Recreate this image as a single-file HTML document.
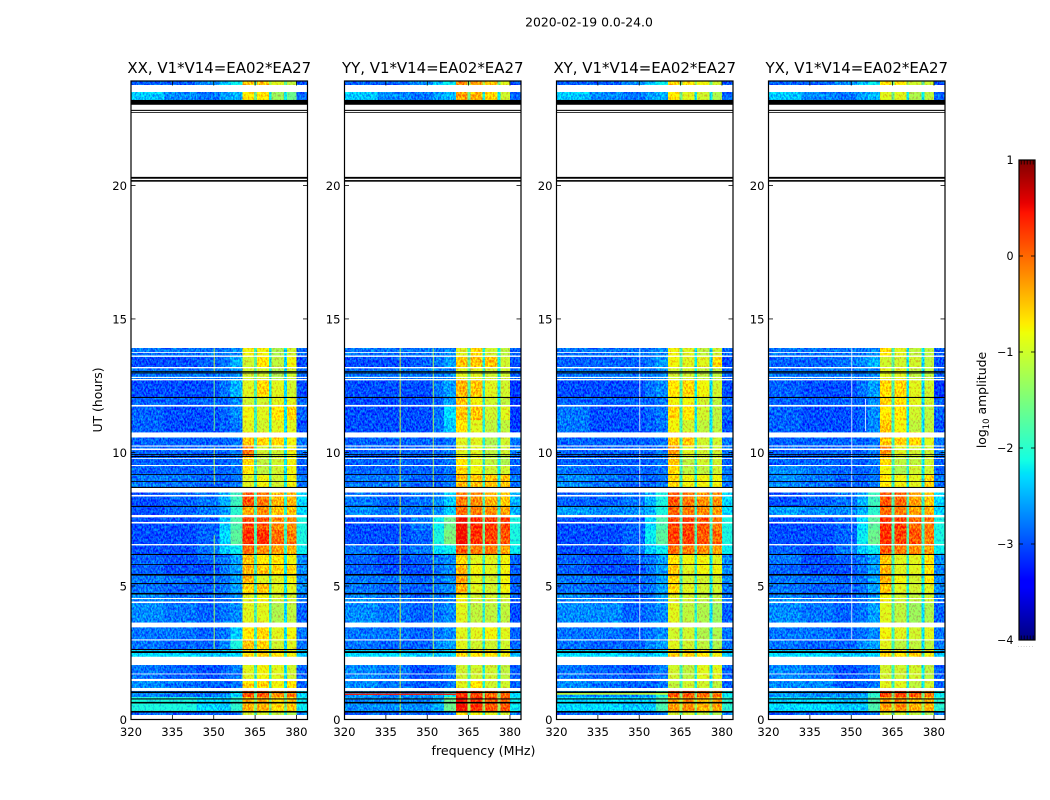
<!DOCTYPE html>
<html>
<head>
<meta charset="utf-8">
<title>2020-02-19 dynamic spectra</title>
<style>
html,body{margin:0;padding:0;background:#fff;}
svg{display:block;}
text{font-family:"DejaVu Sans","Liberation Sans",sans-serif;fill:#000;}
</style>
</head>
<body>
<svg id="figure" xmlns="http://www.w3.org/2000/svg" width="1050" height="800" viewBox="0 0 1050 800">
  <defs>
    <filter id="speckle" filterUnits="userSpaceOnUse" x="120" y="70" width="840" height="660" color-interpolation-filters="sRGB">
      <feTurbulence type="fractalNoise" baseFrequency="0.6 0.38" numOctaves="2" seed="7" result="n"/>
      <feColorMatrix in="n" type="matrix" values="0 0 0 0 0.5  2.4 0 0 0 -0.7  0 0 0 0 0.5  0 0 0 0 1" result="g"/>
      <feComposite in="SourceGraphic" in2="g" operator="arithmetic" k1="0" k2="1" k3="0.55" k4="-0.275" result="mix"/>
      <feComposite in="mix" in2="SourceAlpha" operator="in"/>
    </filter>
  </defs>
  <rect x="0" y="0" width="1050" height="800" fill="#fff"/>
  <text x="589" y="26.5" font-size="12.4" text-anchor="middle">2020-02-19 0.0-24.0</text>
  <text x="0" y="0" font-size="12.4" text-anchor="middle" transform="translate(102,400) rotate(-90)">UT (hours)</text>
  <text x="483.5" y="755" font-size="12.6" text-anchor="middle">frequency (MHz)</text>
  <g id="panels"></g>
  <g id="colorbar"></g>
  <text font-size="12.4" text-anchor="middle" transform="translate(986,400) rotate(-90)">log<tspan font-size="8.5" dy="3">10</tspan><tspan dy="-3"> amplitude</tspan></text>
</svg>
<script>
const panelTitles = ['XX, V1*V14=EA02*EA27','YY, V1*V14=EA02*EA27','XY, V1*V14=EA02*EA27','YX, V1*V14=EA02*EA27'];
const freqTicks = [320,335,350,365,380];
const timeTicks = [0,5,10,15,20];
const colorTicks = [1,0,-1,-2,-3,-4];
const colorTickLabels = ['1','0','\u22121','\u22122','\u22123','\u22124'];

// frequency bin edges in MHz
const freqEdges = [320,332,344,352,356,360.4,364.6,365.6,370,371,375.4,376.5,380,384];
// start and end of each time row in hours
const rowStart = [23.91,23.50,13.91,13.58,13.18,12.72,12.06,11.74,11.22,10.77,10.26,9.87,9.51,9.18,8.69,8.00,7.66,7.10,6.57,6.20,5.82,5.43,5.09,4.72,4.40,3.63,2.98,2.64,2.34,1.50,1.10,0.84,0.30];
const rowEnd   = [23.76,23.20,13.58,13.18,12.72,12.06,11.74,11.22,10.77,10.26,9.87,9.51,9.18,8.69,8.00,7.66,7.10,6.57,6.20,5.82,5.43,5.09,4.72,4.40,3.63,2.98,2.64,2.34,1.50,1.10,0.84,0.30,0.17];

// log10 amplitude, one row per time row, one value per frequency bin
const levelsXX = [
[-2.9,-2.9,-2.7,-2.4,-2.2,-0.5,-1.6,-0.5,-1.3,-0.9,-1.7,-1.1,-3.0],
[-2.4,-2.7,-2.8,-2.6,-2.5,-0.7,-1.6,-0.7,-2.2,-1.3,-2.2,-1.6,-2.9],
[-2.8,-2.8,-2.8,-2.8,-2.7,-0.8,-1.9,-0.8,-2.3,-1.2,-2.3,-1.0,-2.9],
[-3.0,-3.0,-2.9,-2.8,-2.5,-1.0,-1.7,-0.7,-2.2,-1.1,-2.3,-0.8,-3.0],
[-2.8,-2.8,-2.8,-2.8,-2.7,-1.0,-1.7,-1.0,-2.2,-1.2,-2.3,-1.0,-2.9],
[-3.0,-3.0,-3.0,-2.8,-2.5,-0.9,-1.8,-0.6,-2.2,-0.9,-2.3,-1.0,-3.0],
[-2.9,-2.9,-2.9,-2.9,-2.7,-1.0,-1.9,-1.0,-2.2,-0.9,-2.3,-0.9,-2.9],
[-2.9,-3.0,-3.0,-2.9,-2.7,-0.8,-1.9,-0.9,-2.2,-0.7,-2.2,-0.6,-2.9],
[-2.9,-3.0,-3.0,-2.9,-2.8,-0.9,-1.9,-1.0,-2.2,-0.9,-2.3,-0.9,-3.0],
[-2.9,-2.9,-2.9,-2.9,-2.8,-0.5,-1.9,-0.6,-2.0,-0.6,-2.2,-0.8,-2.8],
[-2.9,-2.9,-2.9,-2.9,-2.8,-0.1,-1.9,-1.0,-2.0,-1.0,-2.2,-0.8,-2.8],
[-2.9,-2.9,-2.9,-2.9,-2.8,-0.6,-1.9,-1.1,-2.0,-1.0,-2.2,-0.8,-2.9],
[-2.9,-2.9,-2.9,-2.9,-2.8,-0.7,-1.9,-1.1,-2.0,-1.0,-2.2,-0.8,-2.9],
[-2.8,-2.8,-2.9,-2.9,-2.8,-0.9,-2.0,-0.8,-2.1,-1.0,-2.2,-0.8,-2.8],
[-3.0,-2.9,-2.8,-2.5,-1.9,0.1,-1.8,-0.1,-1.8,-0.4,-2.0,-0.4,-2.3],
[-3.0,-2.9,-2.8,-2.6,-2.0,-0.4,-1.8,-0.2,-1.9,-0.5,-2.0,-0.5,-2.3],
[-3.0,-3.0,-2.9,-2.4,-1.8,0.2,-1.8,0.1,-1.8,-0.2,-1.9,-0.2,-2.1],
[-3.0,-3.0,-2.9,-2.3,-1.7,0.3,-1.8,0.3,-1.8,0.0,-1.9,-0.1,-2.1],
[-3.0,-3.0,-2.8,-2.4,-2.2,0.0,-1.8,-0.2,-1.9,-0.3,-2.0,-0.4,-2.2],
[-2.9,-3.0,-2.9,-2.8,-2.6,-0.5,-1.9,-0.7,-2.0,-0.7,-2.2,-0.8,-2.7],
[-2.9,-3.0,-3.0,-2.8,-2.6,-0.4,-1.9,-0.5,-2.0,-0.6,-2.2,-0.6,-2.7],
[-2.8,-2.8,-2.9,-2.8,-2.6,-0.4,-1.9,-0.9,-2.0,-0.9,-2.2,-0.8,-2.7],
[-2.8,-2.9,-2.9,-2.8,-2.6,-0.6,-1.9,-0.5,-2.1,-0.9,-2.2,-0.9,-2.7],
[-2.7,-2.8,-2.9,-2.8,-2.7,-0.9,-1.9,-0.8,-2.1,-1.0,-2.2,-1.0,-2.8],
[-2.7,-2.8,-2.9,-2.8,-2.7,-0.9,-1.8,-0.9,-2.0,-1.2,-2.3,-1.1,-2.9],
[-2.8,-2.8,-2.9,-2.8,-2.4,-0.7,-1.9,-0.6,-2.1,-0.9,-2.2,-0.8,-2.8],
[-2.8,-2.9,-2.9,-2.7,-2.1,-0.5,-1.9,-0.6,-2.1,-1.0,-2.3,-0.9,-2.8],
[-2.3,-2.3,-2.4,-2.4,-2.3,-0.6,-1.7,-0.6,-1.8,-0.7,-2.0,-0.8,-2.4],
[-2.8,-2.9,-3.0,-2.9,-2.8,-0.9,-1.9,-0.8,-2.1,-0.9,-2.2,-1.0,-2.9],
[-2.7,-2.8,-2.9,-2.9,-2.8,-0.6,-1.9,-0.6,-2.1,-0.8,-2.2,-0.7,-2.9],
[-2.7,-2.8,-2.8,-2.7,-2.3,0.1,-1.7,0.1,-1.7,-0.2,-1.7,-0.1,-2.3],
[-2.1,-2.1,-2.3,-2.4,-2.0,-0.4,-1.4,-0.4,-1.5,-0.6,-1.5,-0.5,-2.2],
[-2.9,-2.9,-2.9,-2.9,-2.8,-1.0,-1.8,-1.0,-2.0,-1.1,-2.0,-1.2,-2.8]
];
const levelsYY = [
[-2.9,-2.9,-2.7,-2.4,-2.2,-0.2,-1.5,-0.3,-1.2,-0.5,-1.6,-0.9,-3.0],
[-2.4,-2.7,-2.8,-2.6,-2.5,-0.3,-1.6,-0.4,-2.1,-0.6,-2.2,-1.0,-2.9],
[-2.8,-2.8,-2.8,-2.8,-2.7,-0.9,-1.9,-0.6,-2.1,-1.0,-2.2,-1.1,-2.9],
[-3.0,-3.0,-2.9,-2.8,-2.6,-0.5,-1.7,-0.5,-2.1,-0.5,-2.2,-1.0,-3.0],
[-2.8,-2.8,-2.8,-2.8,-2.7,-0.9,-1.7,-0.9,-2.0,-1.0,-2.2,-1.0,-2.9],
[-3.0,-3.0,-3.0,-2.8,-2.6,-0.4,-1.8,-0.5,-2.0,-0.9,-2.2,-1.0,-3.1],
[-3.0,-3.0,-3.0,-2.9,-2.6,-0.5,-1.9,-0.8,-2.0,-1.0,-2.2,-1.1,-3.1],
[-3.0,-3.0,-3.0,-2.8,-2.3,-0.5,-1.9,-0.5,-2.0,-1.0,-2.2,-0.9,-3.1],
[-3.0,-3.0,-3.0,-2.8,-2.4,-0.7,-1.9,-0.9,-2.1,-1.1,-2.3,-1.1,-3.1],
[-2.9,-2.9,-2.9,-2.9,-2.8,-0.9,-1.9,-0.9,-2.1,-1.2,-2.2,-1.0,-2.8],
[-2.9,-2.9,-2.9,-2.9,-2.8,-0.9,-1.9,-0.9,-2.1,-1.1,-2.2,-1.0,-2.8],
[-2.9,-2.9,-2.9,-2.9,-2.8,-0.7,-1.9,-0.9,-2.0,-1.1,-2.2,-1.2,-2.9],
[-2.9,-2.9,-2.9,-2.9,-2.8,-0.6,-1.9,-0.8,-2.0,-1.0,-2.2,-1.0,-2.9],
[-2.8,-2.8,-2.9,-2.9,-2.8,-0.4,-2.0,-0.5,-2.0,-0.5,-2.2,-0.5,-2.8],
[-2.8,-2.9,-2.8,-2.7,-2.4,-0.1,-1.8,-0.2,-1.8,-0.4,-2.0,-0.5,-2.5],
[-2.7,-2.8,-2.8,-2.7,-2.4,0.0,-1.8,-0.1,-1.8,-0.2,-2.0,-0.3,-2.5],
[-3.0,-3.0,-2.8,-2.2,-1.6,0.5,-1.6,0.35,-1.6,0.25,-1.7,0.2,-2.1],
[-3.0,-3.0,-2.9,-2.1,-1.5,0.5,-1.6,0.3,-1.6,0.2,-1.7,0.1,-2.1],
[-2.8,-2.9,-2.8,-2.3,-2.2,0.1,-1.7,-0.1,-1.8,-0.1,-1.9,-0.3,-2.2],
[-2.9,-3.0,-2.9,-2.8,-2.7,-0.6,-1.9,-0.9,-2.0,-0.9,-2.2,-0.8,-2.9],
[-2.9,-3.0,-3.0,-2.8,-2.7,-0.4,-1.9,-0.8,-2.0,-0.9,-2.2,-0.8,-2.9],
[-2.8,-2.8,-2.9,-2.8,-2.7,-0.3,-1.9,-0.9,-2.0,-1.0,-2.2,-0.8,-2.9],
[-2.8,-2.9,-2.9,-2.8,-2.7,-0.4,-1.9,-0.9,-2.1,-1.0,-2.2,-0.8,-2.9],
[-2.7,-2.8,-2.9,-2.8,-2.7,-0.8,-1.9,-1.0,-2.1,-1.0,-2.2,-1.0,-2.9],
[-2.7,-2.8,-2.9,-2.8,-2.7,-0.9,-1.8,-1.1,-2.0,-1.1,-2.3,-1.1,-3.0],
[-2.8,-2.8,-2.9,-2.8,-2.7,-0.9,-1.9,-0.9,-2.1,-0.8,-2.2,-0.9,-2.9],
[-2.8,-2.9,-2.9,-2.7,-2.6,-0.9,-1.9,-1.0,-2.1,-1.0,-2.3,-1.0,-2.9],
[-2.3,-2.3,-2.4,-2.4,-2.3,-0.6,-1.7,-0.7,-1.8,-0.7,-2.0,-0.8,-2.5],
[-2.7,-2.8,-3.0,-2.9,-2.8,-1.0,-1.9,-1.0,-2.1,-1.0,-2.2,-1.1,-2.9],
[-2.7,-2.8,-2.9,-2.9,-2.8,-0.9,-1.9,-0.7,-2.1,-1.0,-2.2,-1.0,-2.9],
[-2.6,-2.7,-2.7,-2.6,-2.2,0.3,-1.5,0.2,-1.5,0.0,-1.6,0.0,-2.3],
[-2.7,-2.7,-2.7,-2.5,-1.6,0.5,-1.2,0.3,-1.3,0.1,-1.3,0.1,-2.2],
[-2.9,-2.9,-2.9,-2.9,-2.7,-0.7,-1.8,-0.8,-2.0,-0.9,-2.0,-1.0,-2.8]
];
const levelsXY = [
[-2.9,-2.9,-2.7,-2.4,-2.2,-0.6,-1.6,-0.7,-1.3,-0.8,-1.7,-1.0,-3.0],
[-2.4,-2.7,-2.8,-2.6,-2.5,-0.7,-1.6,-0.9,-2.2,-1.0,-2.2,-1.2,-2.9],
[-2.8,-2.8,-2.8,-2.8,-2.7,-0.8,-1.9,-0.9,-2.3,-1.1,-2.3,-1.0,-2.9],
[-2.9,-2.9,-2.9,-2.8,-2.6,-0.8,-1.7,-0.9,-2.2,-0.9,-2.3,-0.6,-3.0],
[-2.8,-2.8,-2.8,-2.8,-2.7,-1.0,-1.7,-1.0,-2.2,-1.1,-2.3,-1.1,-2.9],
[-3.0,-3.0,-3.0,-2.8,-2.7,-0.7,-1.8,-0.6,-2.2,-0.8,-2.3,-1.0,-3.0],
[-2.9,-2.9,-2.9,-2.9,-2.8,-0.8,-1.9,-0.8,-2.2,-1.0,-2.3,-1.1,-2.9],
[-2.8,-3.0,-3.0,-2.9,-2.8,-0.6,-1.9,-0.7,-2.2,-1.0,-2.2,-1.1,-2.9],
[-2.8,-3.0,-3.0,-2.9,-2.8,-0.8,-1.9,-1.0,-2.2,-1.1,-2.3,-1.1,-3.0],
[-2.9,-2.9,-2.9,-2.9,-2.8,-0.5,-1.9,-0.5,-2.0,-1.0,-2.2,-1.0,-2.8],
[-2.9,-2.9,-2.9,-2.9,-2.8,-0.3,-1.9,-0.9,-2.0,-1.0,-2.2,-1.0,-2.8],
[-2.9,-2.9,-2.9,-2.9,-2.8,-0.5,-1.9,-1.1,-2.0,-1.0,-2.2,-1.0,-2.9],
[-2.8,-2.9,-2.9,-2.9,-2.8,-0.6,-1.9,-1.1,-2.0,-1.1,-2.2,-1.0,-2.8],
[-2.7,-2.8,-2.9,-2.9,-2.8,-0.6,-2.0,-0.8,-2.1,-0.8,-2.2,-0.8,-2.8],
[-2.9,-2.9,-2.8,-2.5,-2.1,0.1,-1.8,-0.1,-1.8,-0.2,-2.0,-0.2,-2.3],
[-2.6,-2.7,-2.7,-2.5,-2.1,0.0,-1.8,-0.1,-1.9,-0.2,-2.0,-0.3,-2.3],
[-3.0,-3.0,-2.9,-2.3,-1.8,0.2,-1.8,0.2,-1.8,0.1,-1.9,-0.1,-2.1],
[-3.0,-3.0,-2.9,-2.2,-1.7,0.2,-1.8,0.2,-1.8,0.1,-1.9,0.0,-2.1],
[-3.0,-3.0,-2.8,-2.4,-2.2,0.0,-1.8,-0.1,-1.9,-0.2,-2.0,-0.3,-2.2],
[-2.9,-3.0,-2.9,-2.8,-2.6,-0.7,-1.9,-0.8,-2.0,-0.8,-2.2,-0.9,-2.7],
[-2.9,-3.0,-3.0,-2.8,-2.6,-0.5,-1.9,-0.9,-2.0,-0.8,-2.2,-0.8,-2.7],
[-2.8,-2.8,-2.9,-2.8,-2.6,-0.6,-1.9,-1.0,-2.0,-1.0,-2.2,-1.0,-2.7],
[-2.8,-2.9,-2.9,-2.8,-2.6,-0.6,-1.9,-0.9,-2.1,-1.0,-2.2,-1.0,-2.8],
[-2.7,-2.8,-2.9,-2.8,-2.6,-0.9,-1.9,-1.0,-2.1,-1.1,-2.2,-1.1,-2.8],
[-2.7,-2.7,-2.9,-2.8,-2.7,-0.9,-1.8,-1.1,-2.0,-1.2,-2.3,-1.3,-2.9],
[-2.8,-2.8,-2.9,-2.8,-2.7,-1.0,-1.9,-1.0,-2.1,-1.2,-2.2,-1.2,-2.8],
[-2.8,-2.9,-2.9,-2.7,-2.6,-0.9,-1.9,-1.0,-2.1,-1.1,-2.3,-1.2,-2.8],
[-2.3,-2.3,-2.4,-2.4,-2.3,-0.5,-1.7,-0.6,-1.8,-0.7,-2.0,-0.8,-2.4],
[-2.8,-2.9,-3.0,-2.9,-2.8,-1.0,-1.9,-1.1,-2.1,-0.9,-2.2,-0.9,-2.9],
[-2.7,-2.8,-2.9,-2.9,-2.8,-1.1,-1.9,-1.0,-2.1,-1.0,-2.2,-1.1,-2.9],
[-2.6,-2.7,-2.7,-2.7,-2.1,0.1,-1.5,0.1,-1.6,0.0,-1.6,-0.1,-2.2],
[-2.3,-2.3,-2.4,-2.4,-1.8,-0.3,-1.2,-0.2,-1.3,-0.4,-1.3,-0.3,-2.0],
[-2.9,-2.9,-2.9,-2.9,-2.7,-1.0,-1.8,-1.0,-2.0,-1.1,-2.0,-1.2,-2.8]
];
const levelsYX = [
[-2.9,-2.9,-2.7,-2.4,-2.2,-0.7,-1.6,-0.7,-1.3,-1.0,-1.7,-1.0,-3.0],
[-2.4,-2.7,-2.8,-2.6,-2.5,-0.9,-1.6,-0.9,-2.2,-1.2,-2.2,-1.1,-2.9],
[-2.8,-2.8,-2.8,-2.8,-2.7,-0.7,-1.9,-0.9,-2.3,-1.1,-2.3,-1.1,-2.9],
[-2.9,-2.9,-2.8,-2.7,-2.5,-1.0,-1.7,-1.0,-2.2,-1.0,-2.3,-1.1,-3.0],
[-2.8,-2.8,-2.8,-2.8,-2.7,-0.9,-1.7,-0.9,-2.2,-1.1,-2.3,-1.1,-2.9],
[-2.9,-3.0,-3.0,-2.8,-2.6,-0.6,-1.8,-0.6,-2.2,-0.9,-2.3,-1.0,-3.1],
[-2.9,-2.9,-2.9,-2.9,-2.7,-0.6,-1.9,-0.7,-2.2,-0.9,-2.3,-1.0,-2.9],
[-2.9,-3.0,-3.0,-2.9,-2.7,-0.7,-1.9,-0.7,-2.2,-1.0,-2.2,-1.1,-2.9],
[-2.9,-3.0,-3.0,-2.9,-2.7,-0.5,-1.9,-0.8,-2.2,-1.1,-2.3,-1.1,-3.0],
[-2.9,-2.9,-2.9,-2.9,-2.8,-0.5,-1.9,-0.6,-2.0,-0.6,-2.2,-0.9,-2.8],
[-2.9,-2.9,-2.9,-2.9,-2.8,-0.2,-1.9,-0.9,-2.0,-1.0,-2.2,-1.0,-2.8],
[-2.9,-2.9,-2.9,-2.9,-2.8,-0.6,-1.9,-1.1,-2.0,-1.1,-2.2,-1.0,-2.9],
[-2.7,-2.8,-2.9,-2.9,-2.8,-0.8,-1.9,-1.2,-2.0,-1.0,-2.2,-1.0,-2.9],
[-2.7,-2.8,-2.9,-2.9,-2.8,-0.7,-2.0,-0.8,-2.1,-0.9,-2.2,-0.6,-2.8],
[-3.0,-2.9,-2.8,-2.5,-1.9,0.1,-1.8,0.0,-1.8,-0.3,-2.0,-0.5,-2.3],
[-2.6,-2.7,-2.7,-2.5,-2.0,0.0,-1.8,-0.1,-1.9,-0.3,-2.0,-0.4,-2.3],
[-3.0,-3.0,-2.9,-2.3,-1.7,0.3,-1.8,0.2,-1.8,0.0,-1.9,-0.1,-2.1],
[-3.0,-3.0,-2.9,-2.2,-1.6,0.3,-1.8,0.2,-1.8,0.1,-1.9,-0.1,-2.1],
[-2.9,-3.0,-2.8,-2.4,-2.2,0.1,-1.8,-0.1,-1.9,-0.2,-2.0,-0.3,-2.2],
[-2.8,-3.0,-2.9,-2.8,-2.6,-0.5,-1.9,-0.9,-2.0,-0.9,-2.2,-0.7,-2.7],
[-2.9,-3.0,-3.0,-2.8,-2.6,-0.4,-1.9,-0.9,-2.0,-0.9,-2.2,-0.7,-2.7],
[-2.8,-2.8,-2.9,-2.8,-2.6,-0.4,-1.9,-0.8,-2.0,-1.0,-2.2,-0.7,-2.7],
[-2.8,-2.9,-2.9,-2.8,-2.6,-0.5,-1.9,-0.9,-2.1,-1.0,-2.2,-0.9,-2.7],
[-2.7,-2.8,-2.9,-2.8,-2.6,-0.8,-1.9,-1.0,-2.1,-1.1,-2.2,-1.0,-2.8],
[-2.7,-2.8,-2.9,-2.8,-2.6,-0.9,-1.8,-1.1,-2.0,-1.3,-2.3,-1.2,-2.9],
[-2.8,-2.8,-2.9,-2.8,-2.7,-0.8,-1.9,-0.9,-2.1,-1.0,-2.2,-0.9,-2.8],
[-2.8,-2.9,-2.9,-2.7,-2.6,-0.9,-1.9,-1.1,-2.1,-1.1,-2.3,-1.1,-2.8],
[-2.3,-2.3,-2.4,-2.4,-2.3,-0.6,-1.7,-0.7,-1.8,-0.5,-2.0,-0.8,-2.4],
[-2.7,-2.8,-3.0,-2.9,-2.8,-1.0,-1.9,-1.0,-2.1,-1.0,-2.2,-1.1,-2.9],
[-2.7,-2.7,-2.9,-2.9,-2.8,-0.9,-1.9,-0.9,-2.1,-1.1,-2.2,-1.0,-2.9],
[-2.6,-2.7,-2.7,-2.6,-2.0,0.2,-1.5,0.2,-1.6,0.1,-1.6,-0.1,-2.2],
[-2.3,-2.3,-2.4,-2.4,-1.8,-0.3,-1.2,-0.2,-1.3,-0.4,-1.3,-0.4,-2.0],
[-2.9,-2.9,-2.9,-2.9,-2.7,-1.0,-1.8,-1.0,-2.0,-1.1,-2.0,-1.2,-2.8]
];
const panelLevels = [levelsXX, levelsYY, levelsXY, levelsYX];

// flagged (white) time ranges in hours
const whiteStart = [13.76,13.63,13.20,12.83,12.75,11.78,10.75,10.26,10.15,9.79,9.53,8.69,8.41,7.66,7.40,6.57,4.55,4.42,3.63,3.00,2.35,1.72,1.52,1.18];
const whiteEnd   = [13.73,13.58,13.15,12.79,12.70,11.72,10.56,10.22,10.09,9.76,9.49,8.50,8.35,7.57,7.34,6.52,4.51,4.36,3.45,2.96,2.04,1.69,1.44,1.07];
// zero-amplitude (black) time ranges in hours
const blackStart = [23.20,22.83,22.75,20.32,20.20,13.05,13.00,12.08,9.94,9.87,9.19,8.93,8.71,8.00,6.20,5.82,5.45,5.11,4.74,2.64,2.56,1.05,0.79,0.66,0.32];
const blackEnd   = [23.02,22.79,22.72,20.25,20.14,13.02,12.96,12.04,9.91,9.83,9.16,8.90,8.67,7.96,6.16,5.79,5.39,5.07,4.68,2.60,2.49,0.99,0.75,0.60,0.26];

// narrow interference channels: panel, MHz, start hour, end hour, level (null = flagged white)
const rfiPanel = [0,0,0,0,1,1,1,2,2,3,3,3];
const rfiFreq  = [350,350,350,350,340,340,352,350,350,350,350,355];
const rfiStart = [13.9,12.7,10.2,6.9,13.9,8.4,13.9,13.9,10.2,13.9,6.9,12.0];
const rfiEnd   = [13.0,10.8,8.8,2.6,8.7,0.2,2.2,10.8,3.0,7.0,3.0,10.8];
const rfiLevel = [-1.0,-1.5,-1.0,-1.2,-0.9,-0.9,-1.1,null,null,null,null,null];

// narrow bright time rows: panel, start hour, end hour, level
const flarePanel = [1,1,2];
const flareStart = [1.05,0.97,0.99];
const flareEnd   = [1.00,0.92,0.93];
const flareLevel = [0.3,0.4,-1.0];

const svgNS = 'http://www.w3.org/2000/svg';
const panelsRoot = document.getElementById('panels');
const colorbarRoot = document.getElementById('colorbar');
const panelLeft = [131,344.5,556.5,768.5];
const panelWidth = 176.5;
const axisTop = 81;
const axisBottom = 719.5;
const freqMin = 320, freqMax = 384, timeMin = 0, timeMax = 23.91;
const cbLeft = 1019, cbRight = 1035, cbTop = 160, cbBottom = 640, cbMin = -4, cbMax = 1;

function xScale(panel, f){ return panelLeft[panel] + (f - freqMin) / (freqMax - freqMin) * panelWidth; }
function yScale(h){ return axisBottom - (h - timeMin) / (timeMax - timeMin) * (axisBottom - axisTop); }
function cbScale(v){ return cbBottom - (v - cbMin) / (cbMax - cbMin) * (cbBottom - cbTop); }

function ramp(v, pts){
  for (let i = 1; i < pts.length; i++) {
    if (v <= pts[i][0]) {
      const a = pts[i-1], b = pts[i];
      return a[1] + (b[1]-a[1]) * (v-a[0]) / (b[0]-a[0] || 1);
    }
  }
  return pts[pts.length-1][1];
}
function jet(level){
  const v = Math.max(0, Math.min(1, (level - cbMin) / (cbMax - cbMin)));
  const r = ramp(v, [[0,0],[.35,0],[.66,1],[.89,1],[1,.5]]);
  const g = ramp(v, [[0,0],[.125,0],[.375,1],[.64,1],[.91,0],[1,0]]);
  const b = ramp(v, [[0,.5],[.11,1],[.34,1],[.65,0],[1,0]]);
  return 'rgb(' + Math.round(r*255) + ',' + Math.round(g*255) + ',' + Math.round(b*255) + ')';
}
function svgEl(tag, parent, attrs){
  const el = document.createElementNS(svgNS, tag);
  for (const k in attrs) el.setAttribute(k, attrs[k]);
  parent.appendChild(el);
  return el;
}

panelTitles.forEach(function(title, p){
  const g = svgEl('g', panelsRoot, {});
  
  
  const x0 = xScale(p, freqMin), x1 = xScale(p, freqMax);

  const cells = svgEl('g', g, {filter:'url(#speckle)'});
  
  

  panelLevels[p].forEach(function(row, r){
    row.forEach(function(level, c){
      const xa = xScale(p, freqEdges[c]), xb = xScale(p, freqEdges[c+1]);
      const ya = yScale(rowStart[r]), yb = yScale(rowEnd[r]);
      const cell = svgEl('rect', cells, {x:xa, y:ya, width:xb-xa, height:yb-ya, fill:jet(level), 'shape-rendering':'crispEdges'});
      
      
    });
  });

  rfiFreq.forEach(function(f, i){
    if (rfiPanel[i] !== p) return;
    const xa = xScale(p, f);
    const ya = yScale(rfiStart[i]), yb = yScale(rfiEnd[i]);
    const col = rfiLevel[i] === null ? '#fff' : jet(rfiLevel[i]);
    const line = svgEl('rect', g, {x:xa, y:ya, width:1, height:yb-ya, fill:col, opacity: rfiLevel[i] === null ? 0.75 : 0.9});
    
    
  });

  flareStart.forEach(function(h, i){
    if (flarePanel[i] !== p) return;
    const ya = yScale(h), yb = yScale(flareEnd[i]);
    const band = svgEl('rect', g, {x:x0, y:ya, width:xScale(p,360.4)-x0, height:yb-ya, fill:jet(flareLevel[i])});
    
    
  });

  whiteStart.forEach(function(h, i){
    const ya = yScale(h), yb = yScale(whiteEnd[i]);
    const gap = svgEl('rect', g, {x:x0, y:ya, width:x1-x0, height:yb-ya, fill:'#fff'});
    
    
  });
  blackStart.forEach(function(h, i){
    const ya = yScale(h), yb = yScale(blackEnd[i]);
    const bar = svgEl('rect', g, {x:x0, y:ya, width:x1-x0, height:yb-ya, fill:'#000'});
    
    
  });

  freqTicks.forEach(function(f){
    const x = xScale(p, f);
    const tb = svgEl('line', g, {x1:x, x2:x, y1:axisBottom, y2:axisBottom-4.5, stroke:'#000', 'stroke-width':0.8});
    
    
    const tt = svgEl('line', g, {x1:x, x2:x, y1:axisTop, y2:axisTop+4.5, stroke:'#000', 'stroke-width':0.8});
    
    
    const lab = svgEl('text', g, {x:x, y:736, 'font-size':11.6, 'text-anchor':'middle'});
    lab.textContent = String(f);
    
    
  });
  timeTicks.forEach(function(h){
    const y = yScale(h);
    const tl = svgEl('line', g, {x1:x0, x2:x0+4.5, y1:y, y2:y, stroke:'#000', 'stroke-width':0.8});
    
    
    const tr = svgEl('line', g, {x1:x1, x2:x1-4.5, y1:y, y2:y, stroke:'#000', 'stroke-width':0.8});
    
    
    const lab = svgEl('text', g, {x:x0-4, y:y+4.5, 'font-size':11.6, 'text-anchor':'end'});
    lab.textContent = String(h);
    
    
  });

  const frame = svgEl('rect', g, {x:x0, y:axisTop, width:x1-x0, height:axisBottom-axisTop, fill:'none', stroke:'#000', 'stroke-width':1.2});
  
  

  const t = svgEl('text', g, {x:(x0+x1)/2, y:73, 'font-size':14.95, 'text-anchor':'middle'});
  t.textContent = title;
  
  
});

// colour bar
for (let py = cbTop; py < cbBottom; py++) {
  const level = cbMax - (py + 0.5 - cbTop) / (cbBottom - cbTop) * (cbMax - cbMin);
  const strip = svgEl('rect', colorbarRoot, {x:cbLeft, y:py, width:cbRight-cbLeft, height:1, fill:jet(level), 'shape-rendering':'crispEdges'});
  
  
}
colorTicks.forEach(function(v, i){
  const y = cbScale(v);
  const l = svgEl('line', colorbarRoot, {x1:cbLeft, x2:cbLeft+4, y1:y, y2:y, stroke:'#000', 'stroke-width':0.8});
  
  
  const r = svgEl('line', colorbarRoot, {x1:cbRight, x2:cbRight-4, y1:y, y2:y, stroke:'#000', 'stroke-width':0.8});
  
  
  const lab = svgEl('text', colorbarRoot, {x:1013.5, y:y+4, 'font-size':11.1, 'text-anchor':'end'});
  lab.textContent = colorTickLabels[i];
  
  
});
for (let i = 0; i < 5; i++) {
  const x = cbLeft + 2.2 + i * 3;
  const a = svgEl('line', colorbarRoot, {x1:x, x2:x, y1:cbTop, y2:cbTop+4.5, stroke:'#000', 'stroke-width':0.8});
  
  
  const b = svgEl('line', colorbarRoot, {x1:x, x2:x, y1:cbBottom, y2:cbBottom-4.5, stroke:'#000', 'stroke-width':0.8});
  
  
}
const cbFrame = svgEl('rect', colorbarRoot, {x:cbLeft, y:cbTop, width:cbRight-cbLeft, height:cbBottom-cbTop, fill:'none', stroke:'#000', 'stroke-width':1.2});


const cbDots = svgEl('text', colorbarRoot, {x:1026, y:647, 'font-size':5, 'text-anchor':'middle', 'letter-spacing':'1.2', style:'fill:#777'});
cbDots.textContent = '......';


</script>
</body>
</html>
